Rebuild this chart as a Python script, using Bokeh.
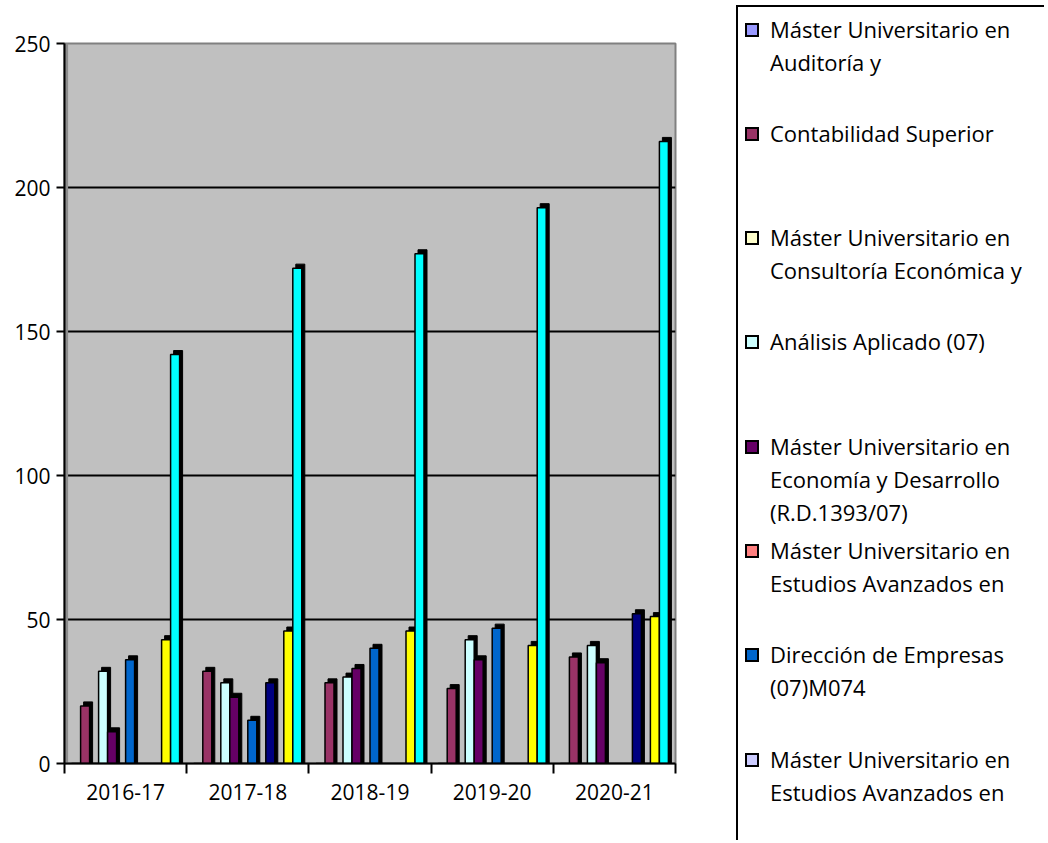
import html as _html
from bokeh.plotting import figure
from bokeh.layouts import row
from bokeh.models import Range1d, FixedTicker, ColumnDataSource, BoxAnnotation, Div
from bokeh.embed import file_html
from bokeh.resources import INLINE

# ---------------- data ----------------
years = ["2016-17", "2017-18", "2018-19", "2019-20", "2020-21"]

s_auditoria = [0, 0, 0, 0, 0]            # Máster Universitario en Auditoría y
s_contabilidad = [20, 32, 28, 26, 37]    # Contabilidad Superior
s_consultoria = [0, 0, 0, 0, 0]          # Máster Universitario en Consultoría Económica y
s_analisis = [32, 28, 30, 43, 41]        # Análisis Aplicado (07)
s_economia = [11, 23, 33, 36, 35]        # Máster ... Economía y Desarrollo (R.D.1393/07)
s_estudios_a = [0, 0, 0, 0, 0]           # Máster ... Estudios Avanzados en
s_direccion = [36, 15, 40, 47, 0]        # Dirección de Empresas (07)M074
s_estudios_b = [0, 0, 0, 0, 0]           # Máster ... Estudios Avanzados en
s_series9 = [0, 28, 0, 0, 52]
s_series10 = [0, 0, 0, 0, 0]
s_series11 = [43, 46, 46, 41, 51]
s_series12 = [142, 172, 177, 193, 216]

series = [s_auditoria, s_contabilidad, s_consultoria, s_analisis, s_economia,
          s_estudios_a, s_direccion, s_estudios_b, s_series9, s_series10,
          s_series11, s_series12]

colors = ["#9999FF", "#993366", "#FFFFCC", "#CCFFFF", "#660066", "#FF8080",
          "#0066CC", "#CCCCFF", "#000080", "#FF00FF", "#FFFF00", "#00FFFF"]

legend_labels = [
    "Máster Universitario en\nAuditoría y",
    "Contabilidad Superior",
    "Máster Universitario en\nConsultoría Económica y",
    "Análisis Aplicado (07)",
    "Máster Universitario en\nEconomía y Desarrollo\n(R.D.1393/07)",
    "Máster Universitario en\nEstudios Avanzados en",
    "Dirección de Empresas\n(07)M074",
    "Máster Universitario en\nEstudios Avanzados en",
]

y_ticks = [0, 50, 100, 150, 200, 250]

# ---------------- style / layout constants ----------------
FONT = "Open Sans"
W, H = 1044, 840
FX0, FY0 = 64, 43                 # frame top-left on the page
FRAME_W, FRAME_H = 611, 720
MAIN_W = 736                      # legend box starts here
PX_X = FRAME_W / len(years)
PX_Y = FRAME_H / 250.0
SLOT = 9.0 / PX_X
BAR_W = 9.0 / PX_X
DX = 3.0 / PX_X                   # 3D depth offset
DY = 4.0 / PX_Y

p = figure(x_range=Range1d(0, len(years)), y_range=Range1d(0, 250),
           frame_width=FRAME_W, frame_height=FRAME_H,
           min_border_left=FX0, min_border_right=MAIN_W - FX0 - FRAME_W,
           min_border_top=FY0, min_border_bottom=H - FY0 - FRAME_H,
           output_backend="svg", toolbar_location=None,
           background_fill_color="#C0C0C0", border_fill_color="white")
p.outline_line_color = "#808080"
p.outline_line_width = 2

# left wall of the 3D box
p.add_layout(BoxAnnotation(right=1.2 * DX, fill_color="#8C8C8C", fill_alpha=1.0,
                           line_color=None, level="underlay"))

# grid
p.xgrid.visible = False
p.ygrid.ticker = FixedTicker(ticks=y_ticks[1:-1])
p.ygrid.grid_line_color = "black"
p.ygrid.grid_line_width = 2

# y axis
p.yaxis.ticker = FixedTicker(ticks=y_ticks)
p.yaxis.axis_line_color = "black"
p.yaxis.axis_line_width = 2
p.yaxis.major_tick_line_color = "black"
p.yaxis.major_tick_line_width = 2
p.yaxis.major_tick_out = 8
p.yaxis.major_tick_in = 0
p.yaxis.minor_tick_line_color = None
p.yaxis.major_label_text_font = FONT
p.yaxis.major_label_text_font_size = "21px"
p.yaxis.major_label_text_color = "black"
p.yaxis.major_label_standoff = 6

# x axis: labels at centres, ticks at category borders
centers = [i + 0.5 for i in range(len(years))]
p.xaxis.ticker = FixedTicker(ticks=centers, minor_ticks=list(range(len(years) + 1)))
p.xaxis.major_label_overrides = {c: y for c, y in zip(centers, years)}
p.xaxis.axis_line_color = "black"
p.xaxis.axis_line_width = 2
p.xaxis.major_tick_line_color = None
p.xaxis.major_tick_out = 0
p.xaxis.major_tick_in = 0
p.xaxis.minor_tick_line_color = "black"
p.xaxis.minor_tick_line_width = 2
p.xaxis.minor_tick_out = 10
p.xaxis.minor_tick_in = 0
p.xaxis.major_label_text_font = FONT
p.xaxis.major_label_text_font_size = "21px"
p.xaxis.major_label_text_color = "black"
p.xaxis.major_label_standoff = 10

# bars (shadow = 3D side/top, then front face), drawn left to right
n = len(series)
for k, (vals, col) in enumerate(zip(series, colors)):
    xs = [c + (k - (n - 1) / 2.0) * SLOT for c in centers]
    src = ColumnDataSource(dict(
        x=xs,
        xs=[x + DX for x in xs],
        top=vals,
        stop=[v + DY if v > 0 else 0 for v in vals],
    ))
    p.vbar(x="xs", top="stop", bottom=0, width=BAR_W, source=src,
           fill_color="black", line_color="black", line_width=1)
    p.vbar(x="x", top="top", bottom=0, width=BAR_W, source=src,
           fill_color=col, line_color="black", line_width=1.5)

# ---------------- legend panel (HTML, to the right of the chart) ----------------
LEG_W = W - MAIN_W
LEG_TOP = 5
FIRST_BASE, STEP, LINE_H, FS = 37.5, 104.3, 33, 22
SQ = 14
ASC = 1.069 * FS + (LINE_H - 1.362 * FS) / 2.0   # baseline offset inside a line box
parts = [
    f'<div style="position:relative;width:{LEG_W}px;height:{H}px;overflow:hidden;'
    f'background:white;font-family:\'{FONT}\';font-size:{FS}px;color:black;">',
    f'<div style="position:absolute;left:0px;top:{LEG_TOP}px;width:{LEG_W + 40}px;'
    f'height:{H + 40}px;border-left:2px solid black;border-top:2px solid black;'
    f'box-sizing:border-box;"></div>',
]
for i, lab in enumerate(legend_labels):
    base = FIRST_BASE + i * STEP
    parts.append(
        f'<div style="position:absolute;left:9px;top:{base - 15:.1f}px;width:{SQ}px;'
        f'height:{SQ}px;min-width:{SQ}px;min-height:{SQ}px;box-sizing:border-box;'
        f'background:{colors[i]};border:2px solid black;"></div>')
    lines = "<br>".join(_html.escape(t) for t in lab.split("\n"))
    parts.append(
        f'<div style="position:absolute;left:34px;top:{base - ASC:.1f}px;'
        f'line-height:{LINE_H}px;white-space:nowrap;">{lines}</div>')
parts.append('</div>')

legend_div = Div(text="".join(parts), width=LEG_W, height=H,
                 styles={"margin": "0", "padding": "0"})

layout = row(p, legend_div, spacing=0)
open("out.html", "w").write(file_html(layout, INLINE))
